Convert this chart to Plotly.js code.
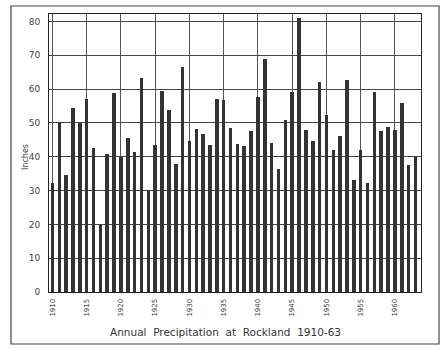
<!DOCTYPE html>
<html><head><meta charset="utf-8">
<script src="https://cdn.plot.ly/plotly-3.0.1.min.js"></script>
<style>html,body{margin:0;padding:0;background:#fff}#chart{width:442px;height:349px}</style>
</head><body><div id="chart"></div>
<script>
const years = [1910,1911,1912,1913,1914,1915,1916,1917,1918,1919,1920,1921,1922,1923,1924,1925,1926,1927,1928,1929,1930,1931,1932,1933,1934,1935,1936,1937,1938,1939,1940,1941,1942,1943,1944,1945,1946,1947,1948,1949,1950,1951,1952,1953,1954,1955,1956,1957,1958,1959,1960,1961,1962,1963];
const inches = [32.3,50.3,34.5,54.5,50.1,57.0,42.5,19.8,40.8,58.9,39.9,45.4,41.3,63.4,30.2,43.4,59.5,53.9,37.8,66.5,44.7,48.2,46.7,43.6,57.0,56.9,48.5,43.8,43.2,47.7,57.7,68.8,44.2,36.4,50.8,59.1,81.0,48.0,44.7,62.2,52.3,41.9,46.0,62.6,33.1,42.1,32.3,59.1,47.7,48.8,47.8,55.9,37.6,39.8];
const xTicks = [1910,1915,1920,1925,1930,1935,1940,1945,1950,1955,1960];
const yTicks = [0,10,20,30,40,50,60,70,80];

const W=442,H=349,L=49,R=21,T=14,B=57;
const pw=W-L-R, ph=H-T-B;
const px=v=>(v-L)/pw, py=v=>1-(v-T)/ph;

Plotly.newPlot('chart',[{
  type:'bar', x:years, y:inches, width:0.52,
  marker:{color:'#333333',line:{width:0}}, hoverinfo:'skip'
}],{
  width:W,height:H,margin:{l:L,r:R,t:T,b:B},
  paper_bgcolor:'#fff',plot_bgcolor:'#fff',
  font:{family:'DejaVu Sans, sans-serif',color:'#444'},
  showlegend:false,bargap:0,
  xaxis:{range:[1909.5,1963.8],tickvals:xTicks,ticktext:xTicks.map(String),tickangle:-90,
    tickfont:{size:7,color:'#444'},showgrid:true,gridcolor:'#555',gridwidth:1,
    showline:true,linecolor:'#222',linewidth:1,mirror:true,ticks:'',zeroline:false,ticklabelstandoff:3},
  yaxis:{range:[0,82.2],tickvals:yTicks,ticktext:yTicks.map(String),
    tickfont:{size:9,color:'#444'},showgrid:true,gridcolor:'#444',gridwidth:1,
    showline:true,linecolor:'#222',linewidth:1,mirror:true,ticks:'',zeroline:false,ticklabelstandoff:6},
  annotations:[
    {text:'Annual  Precipitation  at  Rockland  1910-63',xref:'paper',yref:'paper',
    x:px(225),y:py(332),showarrow:false,xanchor:'center',yanchor:'middle',
    font:{size:10.5,color:'#333',family:'DejaVu Sans, sans-serif'}},
    {text:'Inches',xref:'paper',yref:'paper',x:px(25),y:py(157),textangle:-90,showarrow:false,
    xanchor:'center',yanchor:'middle',font:{size:8,color:'#444',family:'DejaVu Sans, sans-serif'}}],
  shapes:[{type:'rect',xref:'paper',yref:'paper',x0:px(11),x1:px(439),y0:py(344),y1:py(6),
    line:{color:'#444',width:1.2},fillcolor:'rgba(0,0,0,0)',layer:'below'}]
},{staticPlot:true});
</script></body></html>
